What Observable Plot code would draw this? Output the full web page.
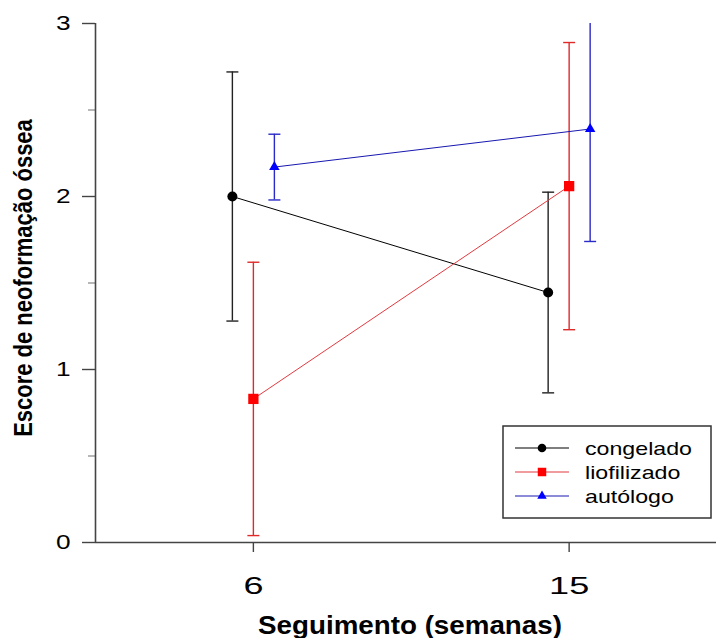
<!DOCTYPE html>
<html>
<head>
<meta charset="utf-8">
<script src="https://cdn.jsdelivr.net/npm/d3@7"></script>
<script src="https://cdn.jsdelivr.net/npm/@observablehq/plot@0.6"></script>
<style>
  body { margin: 0; background: #fff; }
  #chart { position: relative; width: 716px; height: 638px; }
</style>
</head>
<body>
<div id="chart"></div>
<script>
// ---- data ----
const weeks = [6, 15];
const groups = ["congelado", "liofilizado", "autólogo"];
const congeladoMean = [2.00, 1.445];
const congeladoErr = [0.72, 0.58];
const liofilizadoMean = [0.83, 2.06];
const liofilizadoErr = [0.79, 0.83];
const autologoMean = [2.17, 2.39];
const autologoErr = [0.19, 0.65];
const yTicks = [0, 1, 2, 3];
const yMinorTicks = [0.5, 1.5, 2.5];
const xTitle = "Seguimento (semanas)";
const yTitle = "Escore de neoformação óssea";

const means = [congeladoMean, liofilizadoMean, autologoMean];
const errs = [congeladoErr, liofilizadoErr, autologoErr];

const styles = [
  {line: "#000000", bar: "#222222", fill: "#000000", symbol: "circle", r: 5, dx: -21},
  {line: "#e23a40", bar: "#e02a2a", fill: "#ff0000", symbol: "square", r: 5.8, dx: 0},
  {line: "#1818b0", bar: "#2a2ac8", fill: "#0000ff", symbol: "triangle", r: 3.9, dx: 21}
];

const xDomain = [1.5, 19.2];
const yDomain = [0, 3];

const capSymbol = {
  draw(context) { context.moveTo(-6, 0); context.lineTo(6, 0); }
};

const marks = [];
groups.forEach((g, i) => {
  const s = styles[i];
  const rows = weeks.map((w, j) => ({
    group: g, week: w, mean: means[i][j],
    lo: means[i][j] - errs[i][j], hi: means[i][j] + errs[i][j]
  }));
  marks.push(
    Plot.ruleX(rows, {x: "week", y1: "lo", y2: "hi", stroke: s.bar, strokeWidth: 1.4, dx: s.dx, clip: true}),
    Plot.dot(rows, {x: "week", y: "hi", symbol: capSymbol, stroke: s.bar, strokeWidth: 1.4, fill: "none", dx: s.dx, clip: true}),
    Plot.dot(rows, {x: "week", y: "lo", symbol: capSymbol, stroke: s.bar, strokeWidth: 1.4, fill: "none", dx: s.dx, clip: true}),
    Plot.line(rows, {x: "week", y: "mean", stroke: s.line, strokeWidth: 1, dx: s.dx}),
    Plot.dot(rows, {x: "week", y: "mean", symbol: s.symbol, r: s.r, fill: s.fill, stroke: "none", dx: s.dx})
  );
});

const chart = Plot.plot({
  width: 716,
  height: 638,
  marginLeft: 95,
  marginRight: 0,
  marginTop: 23,
  marginBottom: 96,
  x: {domain: xDomain},
  y: {domain: yDomain},
  style: {fontFamily: "'Liberation Sans', Arial, sans-serif", color: "#000", background: "#fff"},
  marks: [
    Plot.axisY(yTicks, {tickSize: 13, tickPadding: 12, fontSize: 21, tickFormat: d => String(d), stroke: "#444", strokeWidth: 1.4, label: null}),
    Plot.axisY(yMinorTicks, {tickSize: 7, tickFormat: () => "", stroke: "#888", strokeWidth: 1.2, label: null}),
    Plot.axisX(weeks, {tickSize: 10, tickPadding: 24, fontSize: 24, tickFormat: d => String(d), stroke: "#444", strokeWidth: 1.4, label: null}),
    Plot.ruleX([xDomain[0]], {stroke: "#444", strokeWidth: 1.6}),
    Plot.ruleY([yDomain[0]], {stroke: "#444", strokeWidth: 1.6}),
    ...marks,
    Plot.text([yTitle], {frameAnchor: "left", rotate: -90, dx: -72, dy: -5, textAnchor: "middle", lineAnchor: "middle", fontSize: 22, fontWeight: "bold"}),
    Plot.text([xTitle], {frameAnchor: "bottom", dx: 4, dy: 83, textAnchor: "middle", lineAnchor: "middle", fontSize: 25, fontWeight: "bold"})
  ]
});

document.getElementById("chart").appendChild(chart);

// ---- legend (inside plot area, bottom right) ----
const svg = d3.select(chart);
const lg = svg.append("g").attr("class", "legend").attr("text-anchor", "start");
lg.append("rect").attr("x", 503).attr("y", 426).attr("width", 208).attr("height", 92)
  .attr("fill", "#fff").attr("stroke", "#333").attr("stroke-width", 1.5);
const legendSym = [
  d3.symbol(d3.symbolCircle, Math.PI * 4.3 * 4.3),
  d3.symbol(d3.symbolSquare, 8.5 * 8.5),
  d3.symbol(d3.symbolTriangle, 9.5 * 9.5 * Math.sqrt(3) / 4)
];
groups.forEach((g, i) => {
  const cy = 448 + i * 24;
  lg.append("line").attr("x1", 515).attr("x2", 569).attr("y1", cy).attr("y2", cy)
    .attr("stroke", styles[i].line).attr("stroke-width", 1.2);
  lg.append("path").attr("d", legendSym[i]()).attr("transform", `translate(542,${cy})`)
    .attr("fill", styles[i].fill);
  lg.append("text").attr("class", "lgtext").attr("x", 585).attr("y", cy + 7)
    .attr("text-anchor", "start").attr("font-size", 19).attr("fill", "#000").text(g);
});

// ---- horizontal stretching of the text, as in the reference ----
function stretch(sel, f) {
  sel.each(function() {
    const L = this.getComputedTextLength();
    if (L > 0) {
      this.setAttribute("textLength", (L * f).toFixed(1));
      this.setAttribute("lengthAdjust", "spacingAndGlyphs");
    }
  });
}
stretch(svg.selectAll("g[aria-label='y-axis tick label'] text"), 1.25);
stretch(svg.selectAll("g[aria-label='x-axis tick label'] text"), 1.5);
stretch(svg.selectAll(".lgtext"), 1.22);
stretch(svg.selectAll("text").filter(function() { return this.textContent === xTitle; }), 1.11);
// the rotated y title is a little wider (thicker) in the reference
svg.selectAll("text").filter(function() { return this.textContent === yTitle; })
  .each(function() {
    const t = this.getAttribute("transform") || "";
    this.setAttribute("transform", t + " scale(1,1.15)");
  });
</script>
</body>
</html>
